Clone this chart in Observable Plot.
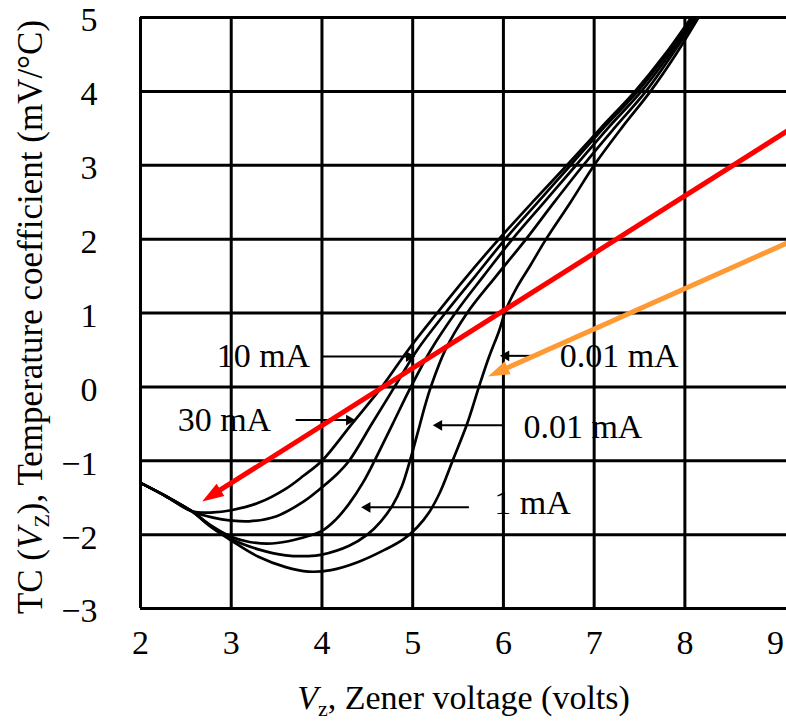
<!DOCTYPE html>
<html>
<head>
<meta charset="utf-8">
<script src="https://cdn.jsdelivr.net/npm/d3@7"></script>
<script src="https://cdn.jsdelivr.net/npm/@observablehq/plot@0.6"></script>
<style>
  html, body { margin: 0; padding: 0; background: #fff; }
  #chart { width: 786px; height: 722px; overflow: hidden; }
</style>
</head>
<body>
<div id="chart"></div>
<script>
// ---- axes ----
const xTicks = [2, 3, 4, 5, 6, 7, 8, 9];
const xGrid = [2, 3, 4, 5, 6, 7, 8];
const yTicks = [-3, -2, -1, 0, 1, 2, 3, 4, 5];
const xLabel = "Vz, Zener voltage (volts)";
const yLabel = "TC (VZ), Temperature coefficient (mV/°C)";

// ---- curves (Vz in volts, TC in mV/°C) ----
const vz30 = [2.0, 2.28, 2.56, 2.8, 3.0, 3.3, 3.6, 3.8, 4.0, 4.33, 4.66, 4.95, 5.27, 5.6, 5.95, 6.32, 6.7, 7.07, 7.45, 7.78, 8.07];
const tc30 = [-1.3, -1.48, -1.68, -1.7, -1.67, -1.57, -1.38, -1.2, -1.0, -0.5, 0, 0.5, 1, 1.5, 2, 2.5, 3, 3.5, 4, 4.5, 5];

const vz10 = [2.0, 2.28, 2.56, 2.8, 3.0, 3.2, 3.5, 3.8, 4.0, 4.15, 4.3, 4.55, 4.8, 5.05, 5.36, 5.69, 6.02, 6.38, 6.74, 7.1, 7.48, 7.8, 8.09];
const tc10 = [-1.3, -1.48, -1.68, -1.77, -1.81, -1.82, -1.75, -1.55, -1.36, -1.2, -1.0, -0.5, 0, 0.5, 1, 1.5, 2, 2.5, 3, 3.5, 4, 4.5, 5];

const vz1 = [2.0, 2.28, 2.56, 2.78, 3.0, 3.2, 3.45, 3.7, 4.0, 4.15, 4.3, 4.45, 4.58, 4.78, 4.98, 5.2, 5.47, 5.78, 6.1, 6.45, 6.8, 7.15, 7.52, 7.83, 8.11];
const tc1 = [-1.3, -1.48, -1.68, -1.88, -2.03, -2.1, -2.12, -2.07, -1.95, -1.8, -1.58, -1.3, -1.0, -0.5, 0, 0.5, 1, 1.5, 2, 2.5, 3, 3.5, 4, 4.5, 5];

const vz01 = [2.0, 2.28, 2.56, 2.78, 3.0, 3.3, 3.6, 3.85, 4.0, 4.3, 4.5, 4.65, 4.78, 4.88, 4.97, 5.06, 5.13, 5.2, 5.36, 5.6, 5.92, 6.25, 6.56, 6.88, 7.22, 7.57, 7.86, 8.13];
const tc01 = [-1.3, -1.48, -1.68, -1.89, -2.06, -2.2, -2.28, -2.29, -2.27, -2.15, -2.0, -1.82, -1.6, -1.35, -1.0, -0.6, -0.28, 0, 0.5, 1, 1.5, 2, 2.5, 3, 3.5, 4, 4.5, 5];

const vz001 = [2.0, 2.28, 2.56, 2.78, 3.0, 3.3, 3.6, 3.85, 4.1, 4.4, 4.7, 4.9, 5.05, 5.18, 5.3, 5.44, 5.6, 5.73, 5.84, 5.95, 6.03, 6.15, 6.3, 6.47, 6.74, 7.0, 7.3, 7.62, 7.9, 8.15];
const tc001 = [-1.3, -1.48, -1.68, -1.9, -2.08, -2.3, -2.44, -2.5, -2.48, -2.37, -2.2, -2.06, -1.9, -1.7, -1.43, -1.0, -0.5, 0, 0.4, 0.75, 1.05, 1.35, 1.65, 2.0, 2.5, 3.0, 3.5, 4.0, 4.5, 5.0];

const curveNames = ["30 mA", "10 mA", "1 mA", "0.1 mA", "0.01 mA"];
const curveX = [vz30, vz10, vz1, vz01, vz001];
const curveY = [tc30, tc10, tc1, tc01, tc001];

// ---- current labels and their leader lines ----
const labelText = ["10 mA", "30 mA", "0.01 mA", "0.01 mA", "1 mA"];
const labelX = [3.87, 3.44, 6.62, 6.22, 5.9];
const labelY = [0.42, -0.45, 0.41, -0.55, -1.58];
const labelSide = ["end", "end", "start", "start", "start"];
const leaderFrom = [4.0, 3.71, 6.33, 6.0, 5.62];
const leaderTo = [4.96, 4.3, 6.03, 5.29, 4.5];
const leaderY = [0.41, -0.45, 0.42, -0.52, -1.63];

// ---- overlaid coloured arrows ----
const arrowX1 = [9.15, 9.15];
const arrowY1 = [3.48, 1.96];
const arrowX2 = [2.68, 5.83];
const arrowY2 = [-1.55, 0.14];
const arrowColor = ["#ff0000", "#ff9933"];

// ---- tables ----
const curveRows = curveNames.flatMap((name, i) =>
  curveX[i].map((x, j) => ({series: name, vz: x, tc: curveY[i][j]})));
const labelRows = labelText.map((t, i) => ({text: t, x: labelX[i], y: labelY[i], side: labelSide[i]}));
const leaderRows = leaderFrom.map((f, i) => ({from: f, to: leaderTo[i], y: leaderY[i], rot: leaderTo[i] > f ? 90 : -90}));

const FONT = "'Liberation Serif', 'Times New Roman', serif";
const FS = 34;
const headR = 9;
const headSymbol = {
  draw(ctx, size) {
    const r = Math.sqrt(size / Math.PI);
    ctx.moveTo(0, -1.8 * r);
    ctx.lineTo(-0.8 * r, 0.6 * r);
    ctx.lineTo(0.8 * r, 0.6 * r);
    ctx.closePath();
  }
};
const intFormat = d => (d < 0 ? "\u2212" + Math.abs(d) : String(d));

function makePlot(arrowRows) {
  return Plot.plot({
    width: 786,
    height: 722,
    marginLeft: 140,
    marginRight: 0,
    marginTop: 17,
    marginBottom: 114,
    x: {domain: [2, 9.12]},
    y: {domain: [-3, 5]},
    style: {fontFamily: FONT, background: "white", color: "black"},
    marks: [
      Plot.gridX(xGrid, {stroke: "black", strokeOpacity: 1, strokeWidth: 3}),
      Plot.gridY(yTicks, {stroke: "black", strokeOpacity: 1, strokeWidth: 3}),
      Plot.axisX(xTicks, {tickSize: 0, tickPadding: 21, tickFormat: intFormat, fontSize: FS, fontFamily: FONT, label: null}),
      Plot.axisY(yTicks, {tickSize: 0, tickPadding: 43, dy: 3, tickFormat: intFormat, fontSize: FS, fontFamily: FONT, label: null}),
      Plot.line(curveRows, {x: "vz", y: "tc", z: "series", stroke: "black", strokeWidth: 2.7, curve: "catmull-rom"}),
      Plot.link(leaderRows, {x1: "from", x2: "to", y1: "y", y2: "y", stroke: "black", strokeWidth: 2}),
      Plot.dot(leaderRows, {x: "to", y: "y", symbol: "triangle", r: 4, rotate: "rot", fill: "black", stroke: "none"}),
      Plot.text(labelRows.filter(d => d.side === "end"), {x: "x", y: "y", text: "text", textAnchor: "end", fontSize: FS, fontFamily: FONT, fill: "black"}),
      Plot.text(labelRows.filter(d => d.side === "start"), {x: "x", y: "y", text: "text", textAnchor: "start", fontSize: FS, fontFamily: FONT, fill: "black"}),
      Plot.text([xLabel], {frameAnchor: "bottom", textAnchor: "middle", lineAnchor: "middle", dy: 90, text: d => d, fontSize: FS, fontFamily: FONT, fill: "black"}),
      Plot.text([yLabel], {frameAnchor: "left", textAnchor: "middle", lineAnchor: "middle", dx: -110, dy: 4, rotate: -90, text: d => d, fontSize: 35, fontFamily: FONT, fill: "black"}),
      ...(arrowRows ? [
        Plot.link(arrowRows, {x1: "x1", y1: "y1", x2: "cx", y2: "cy", stroke: "color", strokeWidth: 5}),
        Plot.dot(arrowRows, {x: "cx", y: "cy", symbol: headSymbol, r: headR, rotate: "rot", fill: "color", stroke: "none"})
      ] : [])
    ]
  });
}

// probe render to get the scales, then orient the arrowheads in screen space
const probe = makePlot(null);
const sx = probe.scale("x"), sy = probe.scale("y");
const arrowRows = arrowX1.map((x1, i) => {
  const p1 = [sx.apply(x1), sy.apply(arrowY1[i])];
  const p2 = [sx.apply(arrowX2[i]), sy.apply(arrowY2[i])];
  const dx = p2[0] - p1[0], dy = p2[1] - p1[1];
  const len = Math.hypot(dx, dy);
  const ux = dx / len, uy = dy / len;
  const c = [p2[0] - ux * 1.8 * headR, p2[1] - uy * 1.8 * headR];
  return {
    x1, y1: arrowY1[i],
    cx: sx.invert(c[0]), cy: sy.invert(c[1]),
    rot: Math.atan2(ux, -uy) * 180 / Math.PI,
    color: arrowColor[i]
  };
});

const chart = makePlot(arrowRows);
document.getElementById("chart").append(chart);

// italic V with subscript in the axis titles
function subscriptLabel(full, pre, sub, post) {
  d3.select(chart).selectAll("text").filter(function () { return this.textContent === full; })
    .each(function () {
      const t = d3.select(this);
      t.text(null);
      t.append("tspan").text(pre);
      t.append("tspan").attr("font-style", "italic").text("V");
      t.append("tspan").attr("font-size", "22px").attr("dy", 7).text(sub);
      t.append("tspan").attr("dy", -7).text(post);
    });
}
subscriptLabel(yLabel, "TC (", "Z", "), Temperature coefficient (mV/°C)");
subscriptLabel(xLabel, "", "z", ", Zener voltage (volts)");
</script>
</body>
</html>
